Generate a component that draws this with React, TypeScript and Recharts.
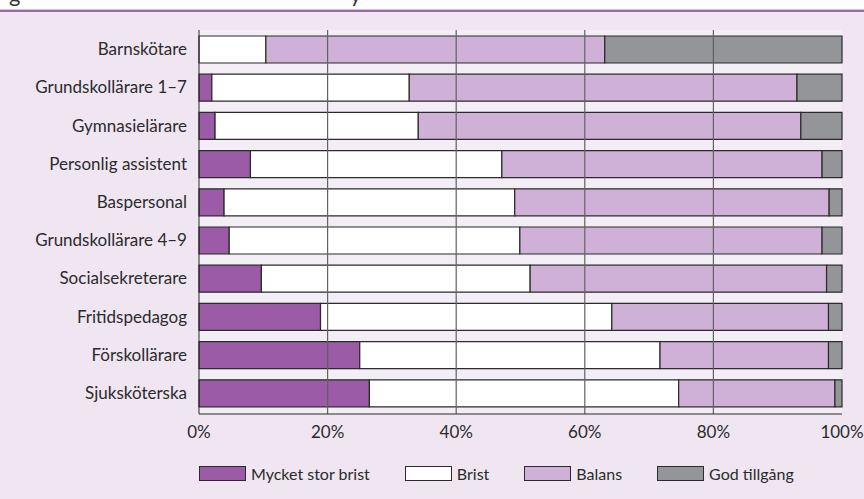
import React from "react";
import {
  BarChart,
  Bar,
  XAxis,
  YAxis,
  CartesianGrid,
  ReferenceLine,
} from "recharts";

const categories = [
  "Barnskötare",
  "Grundskollärare 1–7",
  "Gymnasielärare",
  "Personlig assistent",
  "Baspersonal",
  "Grundskollärare 4–9",
  "Socialsekreterare",
  "Fritidspedagog",
  "Förskollärare",
  "Sjuksköterska",
];

const myckerStorBrist = [0, 2.0, 2.5, 8.0, 3.9, 4.7, 9.7, 18.9, 25.0, 26.5];
const brist = [10.4, 30.7, 31.6, 39.1, 45.2, 45.2, 41.8, 45.3, 46.7, 48.1];
const balans = [52.7, 60.3, 59.5, 49.8, 48.9, 47.0, 46.1, 33.7, 26.2, 24.3];
const godTillgang = [36.9, 7.0, 6.4, 3.1, 2.0, 3.1, 2.4, 2.1, 2.1, 1.1];

const xTicks = [0, 20, 40, 60, 80, 100];
const gridTicks = [20, 40, 60, 80];

const seriesNames = ["Mycket stor brist", "Brist", "Balans", "God tillgång"];
const seriesKeys = ["msb", "brist", "balans", "god"];
const seriesColors = ["#9b5ba6", "#ffffff", "#cfb1d7", "#939598"];

const data = categories.map((c, i) => ({
  name: c,
  msb: myckerStorBrist[i],
  brist: brist[i],
  balans: balans[i],
  god: godTillgang[i],
}));

const FONT = "Lato, 'Open Sans', sans-serif";

export default function App() {
  return (
    <div
      style={{
        position: "absolute",
        left: 0,
        top: 0,
        width: 864,
        height: 499,
        background: "#ffffff",
        overflow: "hidden",
        fontFamily: FONT,
      }}
    >
      <div
        style={{
          position: "absolute",
          left: 0,
          top: 0,
          width: 864,
          height: 10,
          overflow: "hidden",
        }}
      >
        <span
          style={{
            position: "absolute",
            left: 9,
            top: -17,
            fontSize: 22,
            color: "#333",
            lineHeight: "22px",
          }}
        >
          g
        </span>
        <span
          style={{
            position: "absolute",
            left: 350,
            top: -17,
            fontSize: 22,
            color: "#333",
            lineHeight: "22px",
          }}
        >
          y
        </span>
      </div>
      <div
        style={{
          position: "absolute",
          left: 0,
          top: 9,
          width: 864,
          height: 1,
          background: "#d9c4de",
        }}
      />
      <div
        style={{
          position: "absolute",
          left: 0,
          top: 10,
          width: 864,
          height: 2,
          background: "#a066ab",
        }}
      />
      <div
        style={{
          position: "absolute",
          left: 0,
          top: 12,
          width: 864,
          height: 487,
          background: "#efe6f2",
        }}
      >
        <BarChart
          width={864}
          height={487}
          data={data}
          layout="vertical"
          margin={{ top: 18, right: 22, bottom: 55, left: 0 }}
          barSize={27}
        >
          <CartesianGrid
            horizontal={false}
            vertical={false}
            fill="#f3eef5"
          />
          <XAxis
            type="number"
            domain={[0, 100]}
            ticks={xTicks}
            tickFormatter={(v: number) => `${v}%`}
            axisLine={{ stroke: "#2b2b2b", strokeWidth: 1.2 }}
            tickLine={false}
            tickSize={6}
            tickMargin={6}
            height={30}
            tick={{ fill: "#2b2b2b", fontSize: 17, fontFamily: FONT }}
            interval={0}
          />
          <YAxis
            type="category"
            dataKey="name"
            width={199}
            axisLine={{ stroke: "#2b2b2b", strokeWidth: 1 }}
            tickLine={false}
            tickSize={6}
            tickMargin={6}
            interval={0}
            padding={{ top: 0, bottom: 2 }}
            tick={{ fill: "#2b2b2b", fontSize: 17, fontFamily: FONT }}
          />
          {seriesKeys.map((k, i) => (
            <Bar
              key={k}
              dataKey={k}
              name={seriesNames[i]}
              stackId="a"
              fill={seriesColors[i]}
              stroke="#2b2b2b"
              strokeWidth={1.2}
              isAnimationActive={false}
            />
          ))}
          {gridTicks.map((t) => (
            <ReferenceLine
              key={t}
              x={t}
              stroke="#626262"
              strokeWidth={1.2}
            />
          ))}
        </BarChart>
      </div>
      <div
        style={{
          position: "absolute",
          left: 199,
          top: 462,
          height: 22,
          display: "flex",
          alignItems: "center",
          fontSize: 16,
          color: "#2b2b2b",
          fontFamily: FONT,
        }}
      >
        {seriesNames.map((n, i) => (
          <div
            key={n}
            style={{
              display: "flex",
              alignItems: "center",
              marginRight: 35,
            }}
          >
            <div
              style={{
                width: 45,
                height: 13,
                background: seriesColors[i],
                border: "1px solid #2b2b2b",
                marginRight: 5,
              }}
            />
            <span>{n}</span>
          </div>
        ))}
      </div>
    </div>
  );
}
